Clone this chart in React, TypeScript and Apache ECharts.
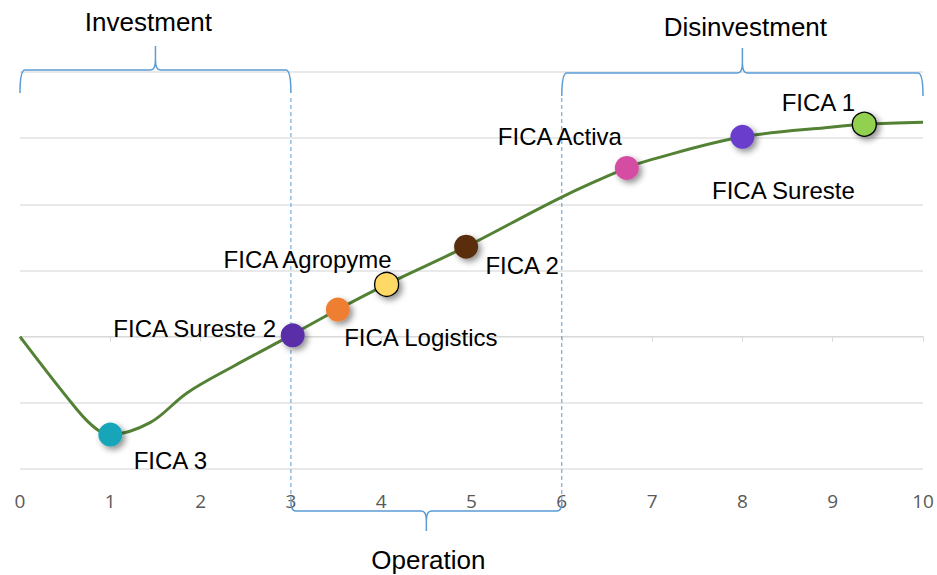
import React, { useEffect, useRef } from 'react';
import * as echarts from 'echarts';

// ---- data ----
const xMin = 0;
const xMax = 10;
const yMin = 0;
const yMax = 6;

const curveX = [0, 0.63, 0.85, 1, 1.44, 1.85, 2.36, 3, 3.52, 4.06, 4.94, 6, 6.72, 7, 8, 9, 9.35, 10];
const curveY = [2.0, 0.9, 0.6, 0.52, 0.7, 1.15, 1.55, 2.02, 2.41, 2.79, 3.36, 4.11, 4.55, 4.68, 5.02, 5.17, 5.21, 5.24];

const fundNames = ['FICA 3', 'FICA Sureste 2', 'FICA Logistics', 'FICA Agropyme', 'FICA 2', 'FICA Activa', 'FICA Sureste', 'FICA 1'];
const fundX = [1.0, 3.02, 3.52, 4.06, 4.94, 6.72, 8.0, 9.35];
const fundY = [0.52, 2.02, 2.41, 2.79, 3.36, 4.55, 5.02, 5.21];

const phaseNames = ['Investment', 'Disinvestment', 'Operation'];
const phaseStart = [0, 6, 3];
const phaseEnd = [3, 10, 6];
const phaseMid = [1.5, 8, 4.5];
const phaseBounds = [3, 6];

// ---- styles ----
const fundColors = ['#17A5B9', '#5A2EA8', '#EE7E33', '#FFD966', '#5A2D0C', '#D44DA3', '#6A3CCC', '#92D050'];
const fundBorders = [false, false, false, true, false, false, false, true];
// text-centre offsets from the marker centre, in pixels
const labelOffsets: [number, number][] = [
  [60, 26], [-98, -7], [83, 28], [-79, -25], [56, 19], [-67, -31], [41, 54], [-46, -22],
];
// brace geometry offsets (px) relative to the plot edge
const braceStyle = [
  { top: true, y0: -2, ye: 21, yt: -26, tx: -7, ty: -50 },
  { top: true, y0: 1, ye: 24, yt: -24, tx: 3, ty: -45 },
  { top: false, y0: 42, ye: 33, yt: 62, tx: 2, ty: 91 },
];
const boundStyle = [
  { y1: 26, y2: 32 },
  { y1: 26, y2: 41 },
];
const BLUE = '#5B9BD5';
const FONT = '"Liberation Sans", Arial, sans-serif';

function bracePath(x1: number, x2: number, xm: number, y0: number, ye: number, yt: number) {
  const d = ye > y0 ? 1 : -1;
  const r = 5;
  return (
    `M ${x1} ${ye} Q ${x1} ${y0} ${x1 + r} ${y0} L ${xm - r} ${y0} Q ${xm} ${y0} ${xm} ${y0 - d * 10} L ${xm} ${yt} ` +
    `M ${xm} ${y0 - d * 10} Q ${xm} ${y0} ${xm + r} ${y0} L ${x2 - r} ${y0} Q ${x2} ${y0} ${x2} ${ye}`
  );
}

export default function App() {
  const ref = useRef<HTMLDivElement>(null);
  useEffect(() => {
    const chart = echarts.init(ref.current!, null, { renderer: 'svg' });
    const gridTop = 72;
    const gridBottom = 106;
    const gridH = 575 - gridTop - gridBottom;

    chart.setOption({
      animation: false,
      backgroundColor: '#ffffff',
      grid: { left: 20, right: 14, top: gridTop, bottom: gridBottom, containLabel: false },
      xAxis: [
        {
          type: 'value',
          min: xMin,
          max: xMax,
          interval: 1,
          position: 'bottom',
          axisLine: { show: false, onZero: false },
          axisTick: { show: false },
          splitLine: { show: false },
          axisLabel: { color: '#595959', fontSize: 19, fontFamily: '"Open Sans", Lato, sans-serif', margin: 22 },
        },
        {
          type: 'value',
          min: xMin,
          max: xMax,
          interval: 1,
          position: 'bottom',
          offset: -(gridH * 2) / (yMax - yMin),
          axisLine: { show: true, onZero: false, lineStyle: { color: '#D9D9D9', width: 1 } },
          axisTick: { show: true, length: 5, lineStyle: { color: '#D9D9D9' } },
          axisLabel: { show: false },
          splitLine: { show: false },
        },
      ],
      yAxis: {
        type: 'value',
        min: yMin,
        max: yMax,
        interval: 1,
        axisLine: { show: false },
        axisTick: { show: false },
        axisLabel: { show: false },
        splitLine: { show: true, lineStyle: { color: '#E2E2E2', width: 1.5 } },
      },
      series: [
        {
          type: 'custom',
          coordinateSystem: 'cartesian2d',
          z: 1,
          silent: true,
          data: phaseBounds.map((x) => [x, 0]),
          renderItem: (params: any, api: any) => {
            const i = params.dataIndex;
            const top = api.coord([api.value(0), yMax]);
            const bot = api.coord([api.value(0), yMin]);
            return {
              type: 'line',
              shape: { x1: top[0], y1: top[1] + boundStyle[i].y1, x2: bot[0], y2: bot[1] + boundStyle[i].y2 },
              style: { stroke: BLUE, lineWidth: 1, lineDash: [4, 3] },
            };
          },
        },
        {
          type: 'custom',
          coordinateSystem: 'cartesian2d',
          z: 1,
          silent: true,
          data: phaseNames.map((n, i) => [phaseStart[i], phaseEnd[i], phaseMid[i]]),
          renderItem: (params: any, api: any) => {
            const i = params.dataIndex;
            const s = braceStyle[i];
            const yRef = s.top ? yMax : yMin;
            const p1 = api.coord([api.value(0), yRef]);
            const p2 = api.coord([api.value(1), yRef]);
            const pm = api.coord([api.value(2), yRef]);
            const base = p1[1];
            return {
              type: 'group',
              children: [
                {
                  type: 'path',
                  shape: { pathData: bracePath(p1[0], p2[0], pm[0], base + s.y0, base + s.ye, base + s.yt) },
                  style: { stroke: BLUE, fill: 'none', lineWidth: 1.5 },
                },
                {
                  type: 'text',
                  x: pm[0] + s.tx,
                  y: base + s.ty,
                  style: {
                    text: phaseNames[i],
                    fill: '#000000',
                    fontSize: 26,
                    fontFamily: FONT,
                    align: 'center',
                    verticalAlign: 'middle',
                  },
                },
              ],
            };
          },
        },
        {
          type: 'line',
          data: curveX.map((x, i) => [x, curveY[i]]),
          smooth: 0.35,
          showSymbol: false,
          symbol: 'none',
          z: 2,
          lineStyle: { color: '#548235', width: 3 },
          silent: true,
        },
        {
          type: 'scatter',
          z: 3,
          symbolSize: 24,
          itemStyle: { opacity: 1 },
          data: fundNames.map((name, i) => ({
            name,
            value: [fundX[i], fundY[i]],
            itemStyle: {
              opacity: 1,
              color: fundColors[i],
              borderColor: fundBorders[i] ? '#000000' : fundColors[i],
              borderWidth: fundBorders[i] ? 1.3 : 0,
              shadowBlur: 6,
              shadowColor: 'rgba(0,0,0,0.45)',
              shadowOffsetX: 3,
              shadowOffsetY: 3,
            },
            label: {
              show: true,
              position: 'inside',
              offset: labelOffsets[i],
              formatter: name,
              color: '#000000',
              opacity: 1,
              fontSize: 24,
              fontFamily: FONT,
              align: 'center',
              verticalAlign: 'middle',
            },
          })),
        },
      ],
    });
    return () => chart.dispose();
  }, []);
  return <div ref={ref} style={{ position: 'fixed', left: 0, top: 0, width: 937, height: 575 }} />;
}
